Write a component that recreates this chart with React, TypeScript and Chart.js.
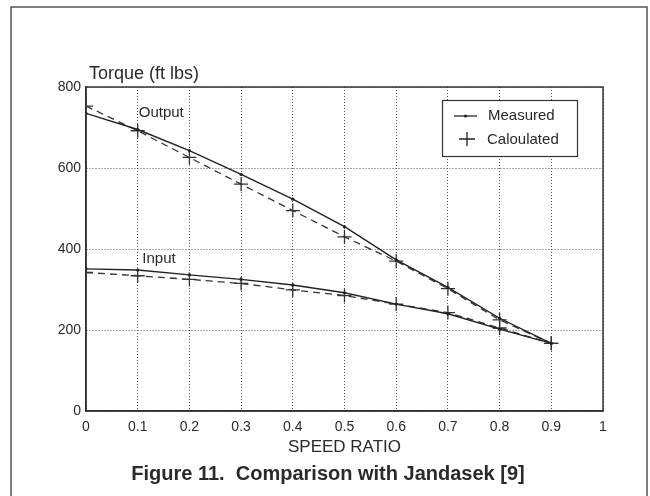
import React, { useEffect, useRef } from "react";
import { Chart, registerables } from "chart.js";

Chart.register(...registerables);

const speedRatio = [0, 0.1, 0.2, 0.3, 0.4, 0.5, 0.6, 0.7, 0.8, 0.9];
const outputMeasured = [735, 695, 643, 584, 523, 455, 373, 305, 229, 167];
const outputCalculated = [753, 692, 626, 560, 495, 430, 370, 302, 225, 167];
const inputMeasured = [351, 348, 336, 325, 311, 292, 264, 240, 202, 167];
const inputCalculated = [342, 334, 325, 315, 299, 285, 264, 243, 205, 167];
const xTicks = [0, 0.1, 0.2, 0.3, 0.4, 0.5, 0.6, 0.7, 0.8, 0.9, 1];
const yTicks = [0, 200, 400, 600, 800];

const FONT = "'Liberation Sans', Arial, sans-serif";
const INK = "#2a2a2a";

const pts = (ys: number[]) => speedRatio.map((x, i) => ({ x, y: ys[i] }));

const framePlugin = {
  id: "frame",
  beforeDatasetsDraw(chart: any) {
    const { ctx, chartArea } = chart;
    ctx.save();
    ctx.setLineDash([]);
    ctx.strokeStyle = "#333";
    ctx.lineWidth = 1.5;
    ctx.strokeRect(
      chartArea.left,
      chartArea.top,
      chartArea.right - chartArea.left,
      chartArea.bottom - chartArea.top
    );
    ctx.restore();
  },
};

const decorPlugin = {
  id: "decor",
  afterDraw(chart: any) {
    const { ctx, chartArea, scales } = chart;
    const xs = scales.x;
    const ys = scales.y;
    ctx.save();
    ctx.setLineDash([]);
    // outer frame
    ctx.strokeStyle = "#555";
    ctx.lineWidth = 1.5;
    ctx.strokeRect(11, 7, 636, 520);

    ctx.fillStyle = INK;
    ctx.textBaseline = "middle";
    // y title
    ctx.font = `18px ${FONT}`;
    ctx.textAlign = "left";
    ctx.fillText("Torque (ft lbs)", 89, 74);
    // curve labels
    ctx.font = `15px ${FONT}`;
    ctx.fillText("Output", xs.getPixelForValue(0.102), ys.getPixelForValue(737));
    ctx.fillText("Input", xs.getPixelForValue(0.109), ys.getPixelForValue(375));
    // x title
    ctx.textAlign = "center";
    ctx.font = `17px ${FONT}`;
    ctx.fillText("SPEED RATIO", (chartArea.left + chartArea.right) / 2, 447);
    // caption
    ctx.font = `bold 20px ${FONT}`;
    ctx.fillText("Figure 11.  Comparison with Jandasek [9]", 328, 474);

    // legend
    const lx = 442, ly = 100, lw = 135, lh = 56;
    ctx.fillStyle = "#fff";
    ctx.fillRect(lx, ly, lw, lh);
    ctx.strokeStyle = "#333";
    ctx.lineWidth = 1.2;
    ctx.strokeRect(lx + 0.5, ly + 0.5, lw, lh);
    ctx.strokeStyle = "#222";
    ctx.lineWidth = 1.3;
    ctx.beginPath();
    ctx.moveTo(454, 116);
    ctx.lineTo(477, 116);
    ctx.stroke();
    ctx.fillStyle = "#222";
    ctx.beginPath();
    ctx.arc(465.5, 116, 1.6, 0, Math.PI * 2);
    ctx.fill();
    ctx.beginPath();
    ctx.moveTo(459, 139);
    ctx.lineTo(475, 139);
    ctx.moveTo(467, 132);
    ctx.lineTo(467, 146);
    ctx.stroke();
    ctx.fillStyle = INK;
    ctx.textAlign = "left";
    ctx.font = `15px ${FONT}`;
    ctx.fillText("Measured", 488, 116);
    ctx.fillText("Caloulated", 487, 140);
    ctx.restore();
  },
};

export default function App() {
  const ref = useRef<HTMLCanvasElement>(null);
  useEffect(() => {
    if (!ref.current) return;
    const measuredStyle = {
      borderColor: "#222",
      backgroundColor: "#222",
      borderWidth: 1.4,
      pointStyle: "circle" as const,
      pointRadius: 1.6,
      pointBorderWidth: 0,
      showLine: true,
      tension: 0,
    };
    const calcStyle = {
      borderColor: "#333",
      backgroundColor: "#333",
      borderWidth: 1.3,
      borderDash: [7, 5],
      pointStyle: "cross" as const,
      pointRadius: 7,
      pointBorderWidth: 1.3,
      showLine: true,
      tension: 0,
    };
    const chart = new Chart(ref.current, {
      type: "scatter",
      data: {
        datasets: [
          { label: "Output Measured", data: pts(outputMeasured), ...measuredStyle },
          { label: "Output Calculated", data: pts(outputCalculated), ...calcStyle },
          { label: "Input Measured", data: pts(inputMeasured), ...measuredStyle },
          { label: "Input Calculated", data: pts(inputCalculated), ...calcStyle },
        ],
      },
      options: {
        responsive: false,
        animation: false,
        layout: { padding: { top: 87, right: 47, left: 0, bottom: 0 } },
        plugins: { legend: { display: false }, tooltip: { enabled: false } },
        scales: {
          x: {
            type: "linear",
            min: 0,
            max: 1,
            afterFit: (s: any) => { s.height = 85; },
            afterBuildTicks: (s: any) => {
              s.ticks = xTicks.map((v) => ({ value: v }));
            },
            ticks: {
              callback: (v: any) => String(Number(Number(v).toFixed(1))),
              font: { family: FONT, size: 14 },
              color: INK,
              padding: 8,
              maxRotation: 0,
              autoSkip: false,
            },
            grid: { color: "#555", lineWidth: 1, drawTicks: false },
            border: { color: "#333", width: 1.5, dash: [1, 2] },
          },
          y: {
            type: "linear",
            min: 0,
            max: 800,
            afterFit: (s: any) => { s.width = 86; },
            afterBuildTicks: (s: any) => {
              s.ticks = yTicks.map((v) => ({ value: v }));
            },
            ticks: {
              font: { family: FONT, size: 14 },
              color: INK,
              padding: 5,
            },
            grid: { color: "#555", lineWidth: 1, drawTicks: false },
            border: { color: "#333", width: 1.5, dash: [1, 2] },
          },
        },
      },
      plugins: [framePlugin, decorPlugin],
    } as any);
    return () => chart.destroy();
  }, []);
  return (
    <div style={{ position: "fixed", left: 0, top: 0, width: 650, height: 496, background: "#fff" }}>
      <canvas ref={ref} width={650} height={496} style={{ width: 650, height: 496 }} />
    </div>
  );
}
